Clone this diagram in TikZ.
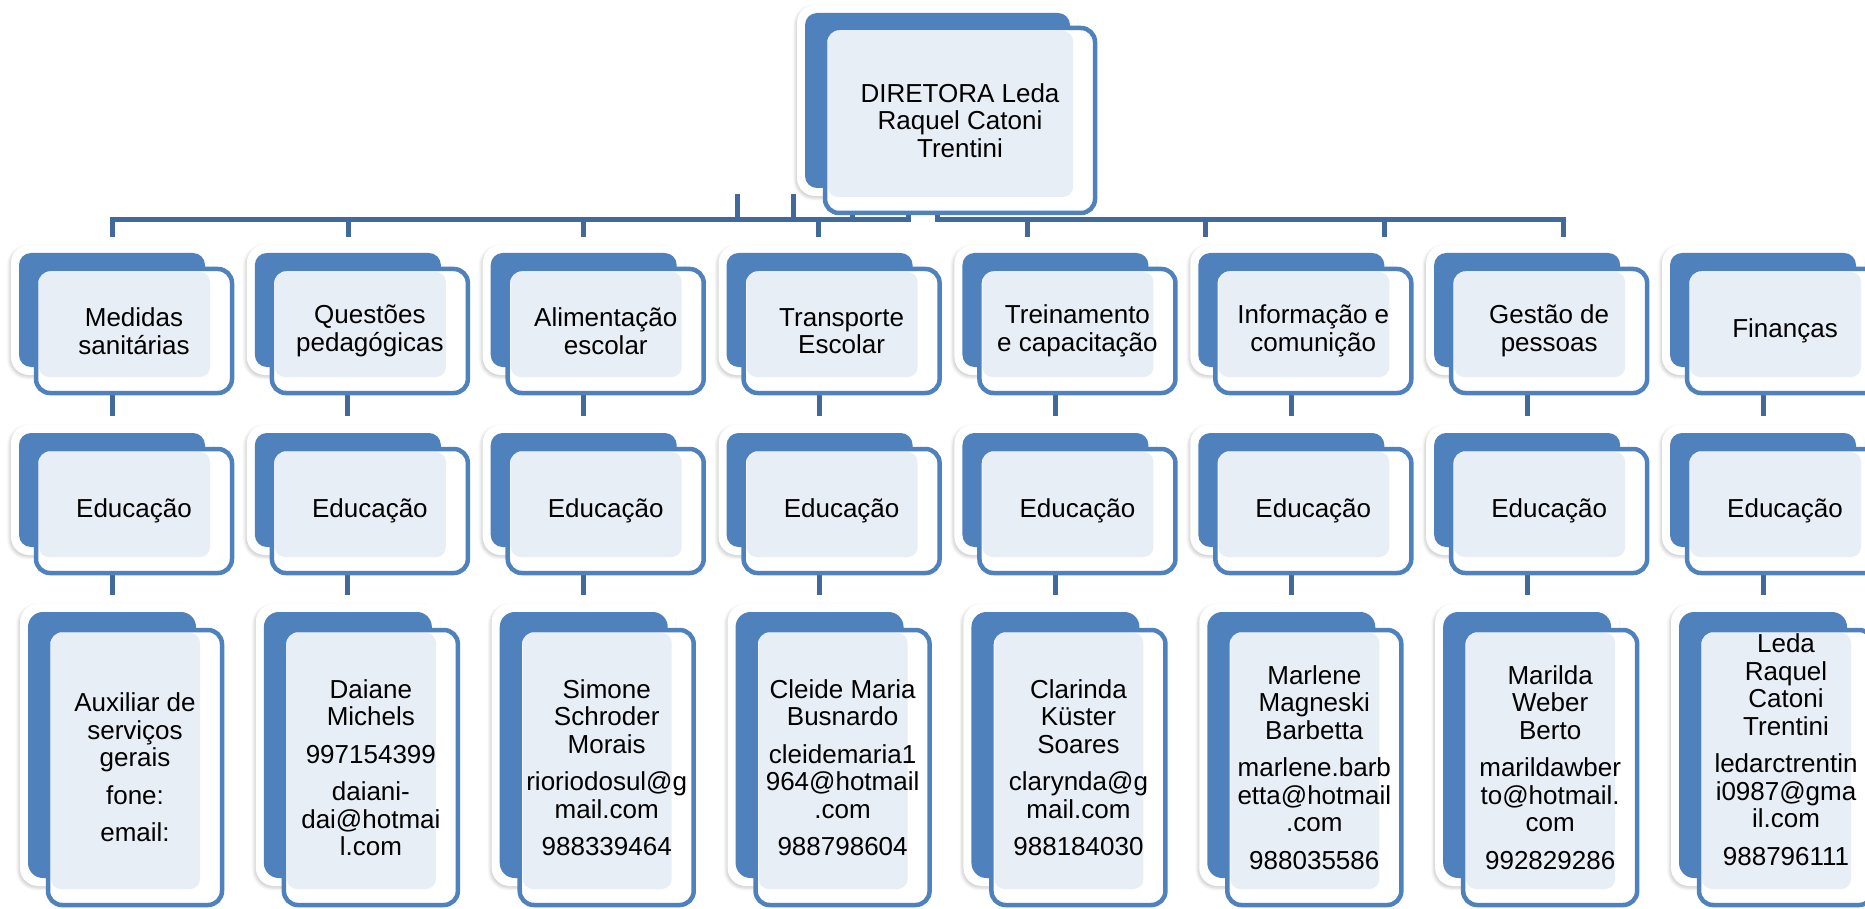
\documentclass[tikz,border=0pt]{standalone}
\usepackage{fontspec}
\setmainfont{Liberation Sans}
\usepackage{tikz}
\usetikzlibrary{positioning,backgrounds,shadows.blur}

\definecolor{cardblue}{HTML}{4F81BD}
\definecolor{linkblue}{HTML}{41699C}
\definecolor{dotblue}{HTML}{E8EEF6}

\begin{document}
\begin{tikzpicture}[x=1pt,y=-1pt,
    every node/.style={font=\fontsize{26}{27.5}\selectfont, align=center, inner sep=0pt},
    backbox/.style={fill=cardblue, rounded corners=12pt},
    glowbox/.style={fill=white, rounded corners=18pt,
        blur shadow={shadow xshift=-1.5pt, shadow yshift=-2pt, shadow blur radius=3pt, shadow opacity=20}},
    frontbox/.style={draw=cardblue, fill=white, line width=4.5pt, rounded corners=14pt,
        path picture={\fill[dotblue, rounded corners=10pt]
            ([xshift=3pt,yshift=-3pt]path picture bounding box.north west) rectangle
            ([xshift=-22pt,yshift=16pt]path picture bounding box.south east);}},
    conn/.style={draw=linkblue, line width=5pt}]
\useasboundingbox (0,0) rectangle (1865,909);
\clip (0,0) rectangle (1865,909);

\fill[glowbox] (797,5) rectangle (1078,196);
\node[backbox, minimum width=265pt, minimum height=175pt] (dirbk) at (937.5,100.5) {};
\node[frontbox, minimum width=270pt, minimum height=185pt] (dir) at (960,120.5)
    {DIRETORA Leda\\Raquel Catoni\\Trentini};

\foreach \i/\head/\who/\dep in {
    1/{Medidas\\sanitárias}/{Auxiliar de\\serviços\\gerais\\[10pt]fone:\\[10pt]email:}/0,
    2/{Questões\\pedagógicas}/{Daiane\\Michels\\[10pt]997154399\\[10pt]daiani-\\dai@hotmai\\l.com}/0,
    3/{Alimentação\\escolar}/{Simone\\Schroder\\Morais\\[10pt]rioriodosul@g\\mail.com\\[10pt]988339464}/0,
    4/{Transporte\\Escolar}/{Cleide Maria\\Busnardo\\[10pt]cleidemaria1\\964@hotmail\\.com\\[10pt]988798604}/0,
    5/{Treinamento\\e capacitação}/{Clarinda\\Küster\\Soares\\[10pt]clarynda@g\\mail.com\\[10pt]988184030}/0,
    6/{Informação e\\comunição}/{Marlene\\Magneski\\Barbetta\\[10pt]marlene.barb\\etta@hotmail\\.com\\[10pt]988035586}/0,
    7/{Gestão de\\pessoas}/{Marilda\\Weber\\Berto\\[10pt]marildawber\\to@hotmail.\\com\\[10pt]992829286}/0,
    8/{Finanças}/{Leda\\Raquel\\Catoni\\Trentini\\[10pt]ledarctrentin\\i0987@gma\\il.com\\[10pt]988796111}/36}{
  \pgfmathsetmacro\cx{112+235.86*(\i-1)}
  \fill[glowbox] (\cx-101,245) rectangle (\cx+101,375);
  \node[backbox, minimum width=186pt, minimum height=114pt] (ab\i) at (\cx,310) {};
  \node[frontbox, minimum width=196pt, minimum height=124pt] (a\i) at (\cx+22,331) {\head};
  \fill[glowbox] (\cx-101,425) rectangle (\cx+101,555);
  \node[backbox, minimum width=186pt, minimum height=114pt] (bb\i) at (\cx,490) {};
  \node[frontbox, minimum width=196pt, minimum height=124pt] (b\i) at (\cx+22,511) {Educação};
  \fill[glowbox] (\cx-92,604) rectangle (\cx+92,886);
  \node[backbox, minimum width=168pt, minimum height=266pt, rounded corners=15pt] (pb\i) at (\cx,745) {};
  \node[frontbox, minimum width=174pt, minimum height=275pt, text depth=\dep pt] (p\i) at (\cx+23,767.5) {\who};
}

\begin{scope}[on background layer]
  \coordinate (bus) at (0,220);
  \foreach \k/\sx in {1/112,2/348,3/583,4/818,5/1027,6/1205,7/1384,8/1563}
    \coordinate (s\k) at (\sx,237);
  \coordinate (u1) at (737,194);
  \coordinate (u2) at (793,194);
  \draw[conn] (dir.south -| 908,0) -- (bus -| 908,0) -- (bus -| s1) -- (s1);
  \draw[conn] (dir.south -| 937,0) -- (bus -| 937,0) -- (bus -| s8) -- (s8);
  \draw[conn] (dir.south -| 852,0) -- (bus -| 852,0);
  \foreach \k in {2,...,7} \draw[conn] (s\k) -- (s\k |- bus);
  \foreach \k in {1,2} \draw[conn] (u\k) -- (u\k |- bus);
  \foreach \i in {1,...,8} {
    \draw[conn, shorten >=17pt] (a\i.south -| ab\i) -- (bb\i.north);
    \draw[conn, shorten >=17pt] (b\i.south -| bb\i) -- (pb\i.north);
  }
\end{scope}
\end{tikzpicture}
\end{document}
